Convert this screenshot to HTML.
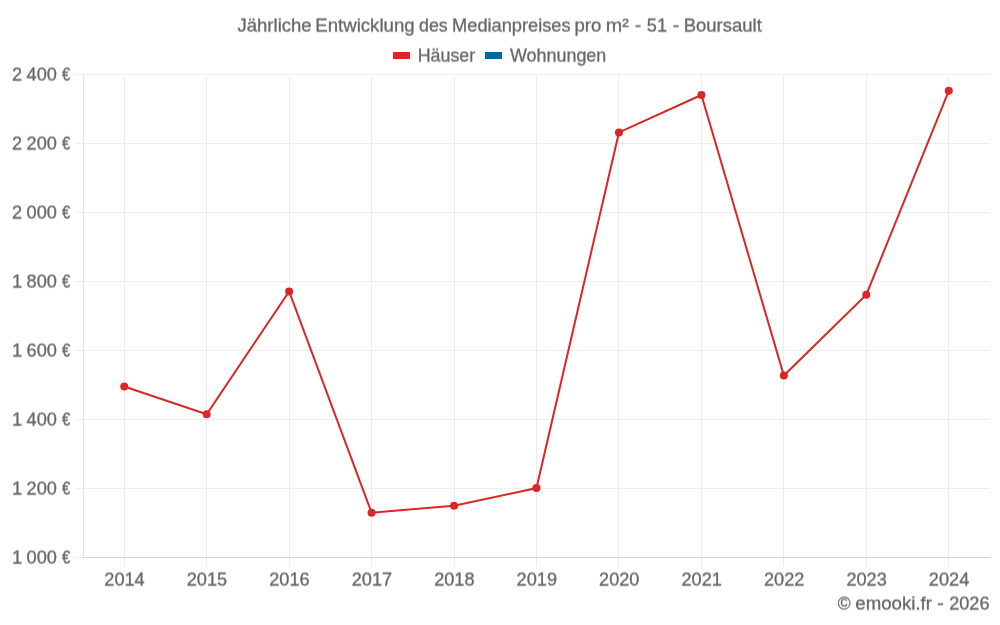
<!DOCTYPE html>
<html lang="de">
<head>
<meta charset="utf-8">
<title>Jährliche Entwicklung des Medianpreises pro m² - 51 - Boursault</title>
<style>
html,body{margin:0;padding:0;background:#fff;}
body{width:1000px;height:625px;overflow:hidden;}
svg{display:block;}
text{font-family:"Liberation Sans",sans-serif;font-size:18.4px;fill:#666;stroke:#666;stroke-width:0.3px;}
</style>
</head>
<body>
<svg width="1000" height="625" viewBox="0 0 1000 625">
<defs>
<filter id="sub" x="0" y="0" width="1000" height="625" filterUnits="userSpaceOnUse" color-interpolation-filters="sRGB">
<feConvolveMatrix order="1 2" kernelMatrix="0.4 0.6" targetX="0" targetY="0" edgeMode="none" preserveAlpha="false"/>
</filter>
</defs>
<rect width="1000" height="625" fill="#fff"/>

<g fill="#ededed" shape-rendering="crispEdges">
<rect x="75" y="74" width="915" height="1"/>
<rect x="75" y="143" width="915" height="1"/>
<rect x="75" y="212" width="915" height="1"/>
<rect x="75" y="281" width="915" height="1"/>
<rect x="75" y="350" width="915" height="1"/>
<rect x="75" y="419" width="915" height="1"/>
<rect x="75" y="488" width="915" height="1"/>
<rect x="75" y="557" width="915" height="1"/>
<rect x="124" y="74" width="1" height="492"/>
<rect x="206" y="74" width="1" height="492"/>
<rect x="289" y="74" width="1" height="492"/>
<rect x="371" y="74" width="1" height="492"/>
<rect x="454" y="74" width="1" height="492"/>
<rect x="536" y="74" width="1" height="492"/>
<rect x="618" y="74" width="1" height="492"/>
<rect x="701" y="74" width="1" height="492"/>
<rect x="783" y="74" width="1" height="492"/>
<rect x="866" y="74" width="1" height="492"/>
<rect x="948" y="74" width="1" height="492"/>
</g>
<g shape-rendering="crispEdges">
<rect x="83" y="74" width="1" height="483" fill="#e5e5e5"/>
<rect x="84" y="557" width="906" height="1" fill="#d5d5d5"/>
<rect x="83" y="557" width="1" height="1" fill="#c6c6c6"/>
<rect x="990" y="557" width="1" height="1" fill="#eaeaea"/>
</g>
<rect x="393" y="52" width="17" height="7" fill="#dc2626"/>
<rect x="485" y="52" width="17" height="7" fill="#0369a1"/>
<g filter="url(#sub)">
<text y="32.00"><tspan x="237.47" textLength="74.16" lengthAdjust="spacingAndGlyphs">Jährliche</tspan> <tspan x="315.26" textLength="99.42" lengthAdjust="spacingAndGlyphs">Entwicklung</tspan> <tspan x="419.04" textLength="28.67" lengthAdjust="spacingAndGlyphs">des</tspan> <tspan x="452.09" textLength="118.46" lengthAdjust="spacingAndGlyphs">Medianpreises</tspan> <tspan x="574.54" textLength="26.86" lengthAdjust="spacingAndGlyphs">pro</tspan> <tspan x="605.87" textLength="23.00" lengthAdjust="spacingAndGlyphs">m²</tspan> <tspan x="634.92" textLength="6.12" lengthAdjust="spacingAndGlyphs">-</tspan> <tspan x="646.80" textLength="20.21" lengthAdjust="spacingAndGlyphs">51</tspan> <tspan x="672.69" textLength="6.39" lengthAdjust="spacingAndGlyphs">-</tspan> <tspan x="683.67" textLength="78.16" lengthAdjust="spacingAndGlyphs">Boursault</tspan></text>
<text y="62.00"><tspan x="417.72" textLength="57.47" lengthAdjust="spacingAndGlyphs">Häuser</tspan></text>
<text y="62.00"><tspan x="510.06" textLength="96.25" lengthAdjust="spacingAndGlyphs">Wohnungen</tspan></text>
<text y="81.00"><tspan x="12.08" textLength="10.11" lengthAdjust="spacingAndGlyphs">2</tspan> <tspan x="26.60" textLength="30.32" lengthAdjust="spacingAndGlyphs">400</tspan> <tspan x="61.96" textLength="8.33" lengthAdjust="spacingAndGlyphs">€</tspan></text>
<text y="150.00"><tspan x="12.08" textLength="10.11" lengthAdjust="spacingAndGlyphs">2</tspan> <tspan x="26.60" textLength="30.32" lengthAdjust="spacingAndGlyphs">200</tspan> <tspan x="61.96" textLength="8.33" lengthAdjust="spacingAndGlyphs">€</tspan></text>
<text y="219.00"><tspan x="12.08" textLength="10.11" lengthAdjust="spacingAndGlyphs">2</tspan> <tspan x="26.60" textLength="30.32" lengthAdjust="spacingAndGlyphs">000</tspan> <tspan x="61.96" textLength="8.33" lengthAdjust="spacingAndGlyphs">€</tspan></text>
<text y="288.00"><tspan x="11.90" textLength="10.23" lengthAdjust="spacingAndGlyphs">1</tspan> <tspan x="26.60" textLength="30.32" lengthAdjust="spacingAndGlyphs">800</tspan> <tspan x="61.96" textLength="8.33" lengthAdjust="spacingAndGlyphs">€</tspan></text>
<text y="357.00"><tspan x="11.90" textLength="10.23" lengthAdjust="spacingAndGlyphs">1</tspan> <tspan x="26.60" textLength="30.32" lengthAdjust="spacingAndGlyphs">600</tspan> <tspan x="61.96" textLength="8.33" lengthAdjust="spacingAndGlyphs">€</tspan></text>
<text y="426.00"><tspan x="11.90" textLength="10.23" lengthAdjust="spacingAndGlyphs">1</tspan> <tspan x="26.60" textLength="30.32" lengthAdjust="spacingAndGlyphs">400</tspan> <tspan x="61.96" textLength="8.33" lengthAdjust="spacingAndGlyphs">€</tspan></text>
<text y="495.00"><tspan x="11.90" textLength="10.23" lengthAdjust="spacingAndGlyphs">1</tspan> <tspan x="26.60" textLength="30.32" lengthAdjust="spacingAndGlyphs">200</tspan> <tspan x="61.96" textLength="8.33" lengthAdjust="spacingAndGlyphs">€</tspan></text>
<text y="564.00"><tspan x="11.90" textLength="10.23" lengthAdjust="spacingAndGlyphs">1</tspan> <tspan x="26.60" textLength="30.32" lengthAdjust="spacingAndGlyphs">000</tspan> <tspan x="61.96" textLength="8.33" lengthAdjust="spacingAndGlyphs">€</tspan></text>
<text y="586.00"><tspan x="104.32" textLength="40.42" lengthAdjust="spacingAndGlyphs">2014</tspan></text>
<text y="586.00"><tspan x="186.78" textLength="40.42" lengthAdjust="spacingAndGlyphs">2015</tspan></text>
<text y="586.00"><tspan x="269.23" textLength="40.42" lengthAdjust="spacingAndGlyphs">2016</tspan></text>
<text y="586.00"><tspan x="351.69" textLength="40.42" lengthAdjust="spacingAndGlyphs">2017</tspan></text>
<text y="586.00"><tspan x="434.14" textLength="40.42" lengthAdjust="spacingAndGlyphs">2018</tspan></text>
<text y="586.00"><tspan x="516.60" textLength="40.42" lengthAdjust="spacingAndGlyphs">2019</tspan></text>
<text y="586.00"><tspan x="599.05" textLength="40.42" lengthAdjust="spacingAndGlyphs">2020</tspan></text>
<text y="586.00"><tspan x="681.50" textLength="40.42" lengthAdjust="spacingAndGlyphs">2021</tspan></text>
<text y="586.00"><tspan x="763.96" textLength="40.42" lengthAdjust="spacingAndGlyphs">2022</tspan></text>
<text y="586.00"><tspan x="846.41" textLength="40.42" lengthAdjust="spacingAndGlyphs">2023</tspan></text>
<text y="586.00"><tspan x="928.87" textLength="40.42" lengthAdjust="spacingAndGlyphs">2024</tspan></text>
<text y="610.00"><tspan x="837.69" textLength="12.86" lengthAdjust="spacingAndGlyphs">©</tspan> <tspan x="855.31" textLength="76.66" lengthAdjust="spacingAndGlyphs">emooki.fr</tspan> <tspan x="937.01" textLength="6.93" lengthAdjust="spacingAndGlyphs">-</tspan> <tspan x="949.14" textLength="40.42" lengthAdjust="spacingAndGlyphs">2026</tspan></text>
</g>
<polyline points="124.23,386.50 206.68,414.20 289.14,291.50 371.59,512.70 454.05,505.70 536.50,488.05 618.95,132.40 701.41,95.00 783.86,375.50 866.32,294.70 948.77,90.80" fill="none" stroke="#dc2626" stroke-width="2" stroke-linejoin="miter"/>
<circle cx="124.23" cy="386.50" r="4" fill="#dc2626"/>
<circle cx="206.68" cy="414.20" r="4" fill="#dc2626"/>
<circle cx="289.14" cy="291.50" r="4" fill="#dc2626"/>
<circle cx="371.59" cy="512.70" r="4" fill="#dc2626"/>
<circle cx="454.05" cy="505.70" r="4" fill="#dc2626"/>
<circle cx="536.50" cy="488.05" r="4" fill="#dc2626"/>
<circle cx="618.95" cy="132.40" r="4" fill="#dc2626"/>
<circle cx="701.41" cy="95.00" r="4" fill="#dc2626"/>
<circle cx="783.86" cy="375.50" r="4" fill="#dc2626"/>
<circle cx="866.32" cy="294.70" r="4" fill="#dc2626"/>
<circle cx="948.77" cy="90.80" r="4" fill="#dc2626"/>
</svg>
</body>
</html>
